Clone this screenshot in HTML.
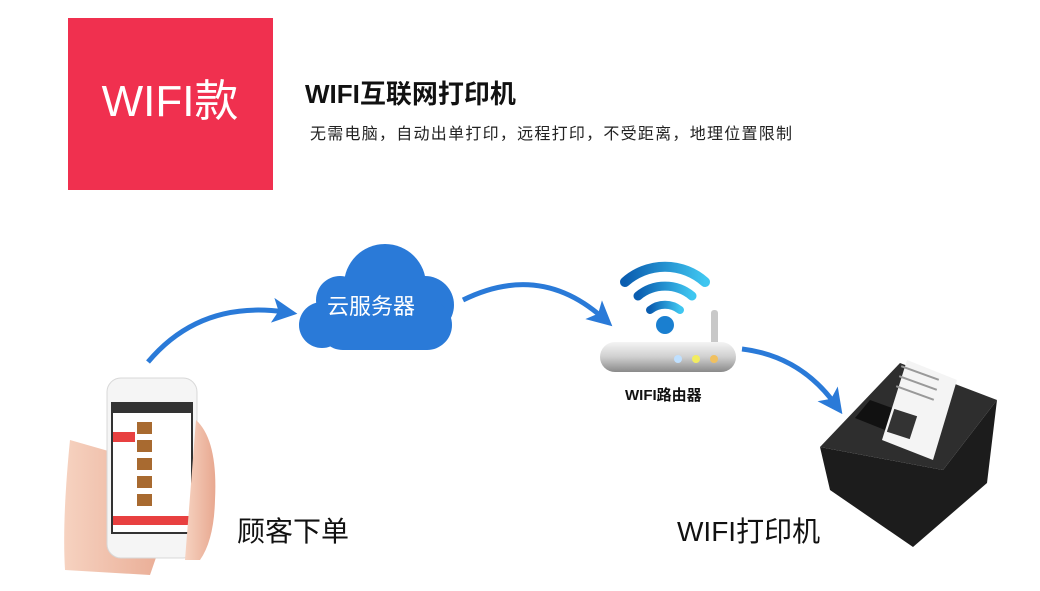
<!DOCTYPE html>
<html><head><meta charset="utf-8"><style>
body{margin:0;background:#fff;}
svg{display:block;font-family:"Liberation Sans","Noto Sans CJK SC",sans-serif;}
</style></head><body>
<svg width="1040" height="591" viewBox="0 0 1040 591" xmlns="http://www.w3.org/2000/svg">
<defs>
<marker id="ah" markerWidth="5" markerHeight="5" refX="2.5" refY="2.5" orient="auto" markerUnits="strokeWidth">
<path d="M0,0 L5,2.5 L0,5 L1.2,2.5 z" fill="#2a7ad8"/></marker>
<linearGradient id="rb" x1="0" y1="0" x2="0" y2="1"><stop offset="0" stop-color="#f4f4f4"/><stop offset="0.5" stop-color="#cfcfcf"/><stop offset="1" stop-color="#8a8a8a"/></linearGradient>
<linearGradient id="wf" x1="0" y1="0" x2="1" y2="0"><stop offset="0" stop-color="#0a5db0"/><stop offset="1" stop-color="#3fc6f0"/></linearGradient>
<linearGradient id="hand" x1="0" y1="0" x2="1" y2="0"><stop offset="0" stop-color="#f6d2c0"/><stop offset="1" stop-color="#e8a890"/></linearGradient>
</defs>
<rect x="68" y="18" width="205" height="172" fill="#f0304f"/>
<text x="170" y="116" font-size="44" fill="#fff" text-anchor="middle">WIFI款</text>
<text x="305" y="103" font-size="26" font-weight="bold" fill="#111">WIFI互联网打印机</text>
<text x="310" y="139" font-size="16" fill="#222" textLength="482">无需电脑，自动出单打印，远程打印，不受距离，地理位置限制</text>

<!-- arrows -->
<path d="M148,362 Q200,300 285,312" fill="none" stroke="#2a7ad8" stroke-width="5" marker-end="url(#ah)"/>
<path d="M463,300 Q540,262 603,318" fill="none" stroke="#2a7ad8" stroke-width="5" marker-end="url(#ah)"/>
<path d="M742,349 Q800,356 835,404" fill="none" stroke="#2a7ad8" stroke-width="5" marker-end="url(#ah)"/>

<!-- cloud -->
<g fill="#2a7ad8">
<circle cx="385" cy="285" r="41"/>
<circle cx="340" cy="300" r="24"/>
<circle cx="425" cy="305" r="29"/>
<rect x="318" y="300" width="134" height="50" rx="25"/>
<circle cx="322" cy="325" r="23"/>
</g>
<text x="327" y="314" font-size="22" fill="#fff">云服务器</text>

<!-- router -->
<g fill="none" stroke="url(#wf)" stroke-linecap="round">
<path d="M625,282 A60,60 0 0 1 705,282" stroke-width="10"/>
<path d="M638,296 A42,42 0 0 1 692,296" stroke-width="9"/>
<path d="M650,310 A24,24 0 0 1 680,310" stroke-width="8"/>
</g>
<circle cx="665" cy="325" r="9" fill="#1a7fd0"/>
<rect x="711" y="310" width="7" height="35" rx="3" fill="#c8c8c8"/>
<rect x="600" y="342" width="136" height="30" rx="15" fill="url(#rb)"/>
<circle cx="678" cy="359" r="4" fill="#bfe0ff"/>
<circle cx="696" cy="359" r="4" fill="#f2ec60"/>
<circle cx="714" cy="359" r="4" fill="#f0c060"/>
<text x="625" y="400" font-size="15" font-weight="bold" fill="#111">WIFI路由器</text>

<!-- phone in hand -->
<path d="M70,440 Q62,520 65,570 L150,575 Q170,520 175,470 Z" fill="url(#hand)"/>
<rect x="107" y="378" width="90" height="180" rx="14" fill="#f5f5f5" stroke="#d8d8d8"/>
<rect x="112" y="403" width="80" height="130" fill="#fff" stroke="#333" stroke-width="2"/>
<rect x="112" y="403" width="80" height="10" fill="#333"/>
<rect x="113" y="432" width="22" height="10" fill="#e84040"/>
<g fill="#a86a30"><rect x="137" y="422" width="15" height="12"/><rect x="137" y="440" width="15" height="12"/><rect x="137" y="458" width="15" height="12"/><rect x="137" y="476" width="15" height="12"/><rect x="137" y="494" width="15" height="12"/></g>
<rect x="113" y="516" width="78" height="9" fill="#e84040"/>
<path d="M196,420 Q218,440 215,500 Q214,540 200,560 L185,560 Z" fill="url(#hand)"/>
<text x="237" y="541" font-size="28" fill="#111">顾客下单</text>

<!-- printer -->
<path d="M820,447 L830,490 L913,547 L987,483 L997,400 L943,470 Z" fill="#1c1c1c"/>
<path d="M820,447 L900,363 L997,400 L943,470 Z" fill="#2e2e2e"/>
<path d="M855,418 L870,400 L925,420 L910,440 Z" fill="#111"/>
<path d="M907,360 L957,380 L933,460 L882,440 Z" fill="#f4f4f4"/>
<rect x="890" y="412" width="24" height="24" fill="#333" transform="rotate(18 902 424)"/>
<g fill="#999"><rect x="900" y="372" width="40" height="2" transform="rotate(20 920 373)"/><rect x="898" y="382" width="40" height="2" transform="rotate(20 918 383)"/><rect x="895" y="392" width="40" height="2" transform="rotate(20 915 393)"/></g>
<text x="677" y="541" font-size="28" fill="#111">WIFI打印机</text>
</svg>
</body></html>
